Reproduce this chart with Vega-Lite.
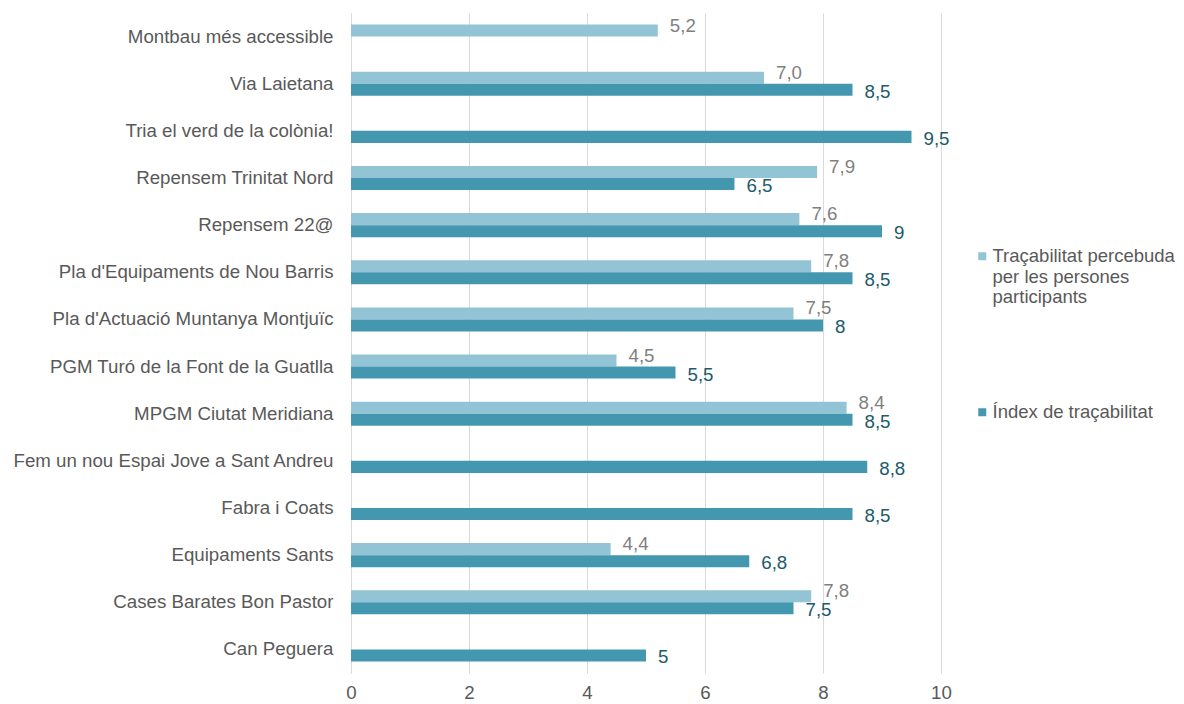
{
  "$schema": "https://vega.github.io/schema/vega-lite/v6.json",
  "width": 590,
  "height": 660,
  "autosize": {"type": "none"},
  "padding": {"left": 351, "top": 13, "right": 243, "bottom": 31},
  "background": "white",
  "config": {
    "font": "Liberation Sans",
    "locale": {"number": {"decimal": ",", "thousands": ".", "grouping": [3], "currency": ["", " €"]}},
    "view": {"stroke": null}
  },
  "data": {
    "values": [
      {"project": "Montbau més accessible", "series": "Traçabilitat percebuda per les persones participants", "value": 5.2},
      {"project": "Via Laietana", "series": "Traçabilitat percebuda per les persones participants", "value": 7.0},
      {"project": "Via Laietana", "series": "Índex de traçabilitat", "value": 8.5},
      {"project": "Tria el verd de la colònia!", "series": "Índex de traçabilitat", "value": 9.5},
      {"project": "Repensem Trinitat Nord", "series": "Traçabilitat percebuda per les persones participants", "value": 7.9},
      {"project": "Repensem Trinitat Nord", "series": "Índex de traçabilitat", "value": 6.5},
      {"project": "Repensem 22@", "series": "Traçabilitat percebuda per les persones participants", "value": 7.6},
      {"project": "Repensem 22@", "series": "Índex de traçabilitat", "value": 9},
      {"project": "Pla d'Equipaments de Nou Barris", "series": "Traçabilitat percebuda per les persones participants", "value": 7.8},
      {"project": "Pla d'Equipaments de Nou Barris", "series": "Índex de traçabilitat", "value": 8.5},
      {"project": "Pla d'Actuació Muntanya Montjuïc", "series": "Traçabilitat percebuda per les persones participants", "value": 7.5},
      {"project": "Pla d'Actuació Muntanya Montjuïc", "series": "Índex de traçabilitat", "value": 8},
      {"project": "PGM Turó de la Font de la Guatlla", "series": "Traçabilitat percebuda per les persones participants", "value": 4.5},
      {"project": "PGM Turó de la Font de la Guatlla", "series": "Índex de traçabilitat", "value": 5.5},
      {"project": "MPGM Ciutat Meridiana", "series": "Traçabilitat percebuda per les persones participants", "value": 8.4},
      {"project": "MPGM Ciutat Meridiana", "series": "Índex de traçabilitat", "value": 8.5},
      {"project": "Fem un nou Espai Jove a Sant Andreu", "series": "Índex de traçabilitat", "value": 8.75},
      {"project": "Fabra i Coats", "series": "Índex de traçabilitat", "value": 8.5},
      {"project": "Equipaments Sants", "series": "Traçabilitat percebuda per les persones participants", "value": 4.4},
      {"project": "Equipaments Sants", "series": "Índex de traçabilitat", "value": 6.75},
      {"project": "Cases Barates Bon Pastor", "series": "Traçabilitat percebuda per les persones participants", "value": 7.8},
      {"project": "Cases Barates Bon Pastor", "series": "Índex de traçabilitat", "value": 7.5},
      {"project": "Can Peguera", "series": "Índex de traçabilitat", "value": 5}
    ]
  },
  "encoding": {
    "y": {
      "field": "project", "type": "nominal", "sort": null,
      "scale": {"paddingInner": 0.49, "paddingOuter": 0.245},
      "axis": {"title": null, "labelFontSize": 18.7, "labelColor": "#595959", "ticks": false, "labelPadding": 18, "domainColor": "#D9D9D9", "domainWidth": 1, "labelLimit": 400, "grid": false}
    },
    "yOffset": {
      "field": "series", "type": "nominal", "sort": null,
      "scale": {"domain": ["Traçabilitat percebuda per les persones participants", "Índex de traçabilitat"], "paddingInner": 0, "paddingOuter": 0}
    },
    "x": {
      "field": "value", "type": "quantitative",
      "scale": {"domain": [0, 10], "nice": false},
      "axis": {"title": null, "values": [0, 2, 4, 6, 8, 10], "domain": false, "ticks": false, "grid": true, "gridColor": "#D9D9D9", "gridWidth": 1, "labelFontSize": 18.7, "labelColor": "#595959", "labelPadding": 10, "labelFlush": false, "format": "d"}
    }
  },
  "layer": [
    {
      "mark": {"type": "bar"},
      "encoding": {
        "color": {
          "field": "series", "type": "nominal",
          "scale": {"domain": ["Traçabilitat percebuda per les persones participants", "Índex de traçabilitat"], "range": ["#93C4D5", "#4398B0"]},
          "legend": {
            "title": null, "orient": "none", "legendX": 622, "legendY": 234, "padding": 0,
            "symbolType": "square", "symbolSize": 64, "symbolStrokeWidth": 0,
            "labelFontSize": 18.5, "labelColor": "#595959", "labelLimit": 300, "labelOffset": 1,
            "labelBaseline": "middle", "rowPadding": 96,
            "labelExpr": "datum.label == 'Traçabilitat percebuda per les persones participants' ? ['Traçabilitat percebuda', 'per les persones', 'participants'] : datum.label"
          }
        }
      }
    },
    {
      "transform": [{"filter": "datum.series == 'Traçabilitat percebuda per les persones participants'"}],
      "mark": {"type": "text", "align": "left", "baseline": "middle", "dx": 12, "dy": -5, "fontSize": 18.7, "color": "#7F7F7F"},
      "encoding": {"text": {"field": "value", "type": "quantitative", "format": ".1f"}}
    },
    {
      "transform": [{"filter": "datum.series == 'Índex de traçabilitat'"}],
      "mark": {"type": "text", "align": "left", "baseline": "middle", "dx": 12, "dy": 2, "fontSize": 18.7, "color": "#215A6A"},
      "encoding": {"text": {"field": "value", "type": "quantitative", "format": ".2~r"}}
    }
  ]
}
